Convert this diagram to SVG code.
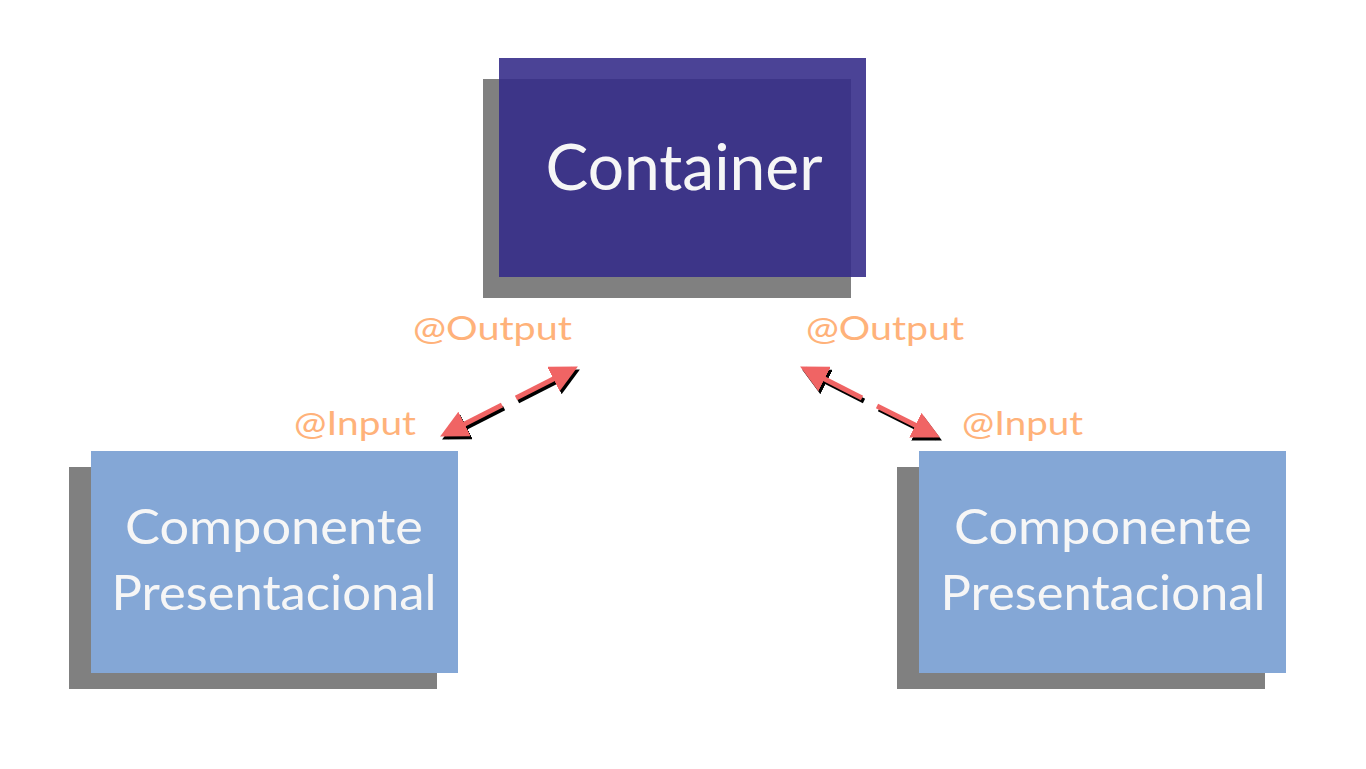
<svg xmlns="http://www.w3.org/2000/svg" width="1366" height="769" viewBox="0 0 1366 769">
<defs>
<style>
.shadow{fill:#808080}
.cont{fill:#352c89;fill-opacity:0.89}
.comp{fill:#84a7d6}
.t{font-family:Lato,"Open Sans","Liberation Sans",sans-serif;fill:#f6f6f6;text-anchor:middle}
.lbl{font-family:Lato,"Open Sans","Liberation Sans",sans-serif;fill:#ffb27a;font-size:33px}
.red{stroke:#f06464;stroke-width:5;fill:none}
.blk{stroke:#000;stroke-width:5;fill:none}
</style>
<marker id="hr" viewBox="0 0 10 10" refX="8" refY="5" markerWidth="5.5" markerHeight="5.5" orient="auto-start-reverse" markerUnits="strokeWidth"><path d="M0,0 L10,5 L0,10 z" fill="#f06464"/></marker>
<marker id="hb" viewBox="0 0 10 10" refX="8" refY="5" markerWidth="5.5" markerHeight="5.5" orient="auto-start-reverse" markerUnits="strokeWidth"><path d="M0,0 L10,5 L0,10 z" fill="#000"/></marker>
</defs>
<rect width="1366" height="769" fill="#fff"/>
<g id="container">
<rect class="shadow" x="483" y="79" width="368" height="219"/>
<rect class="cont" x="499" y="58" width="367" height="219"/>
<text class="t" x="684" y="190" font-size="64" textLength="277" lengthAdjust="spacingAndGlyphs">Container</text>
</g>
<g id="comp-left">
<rect class="shadow" x="69" y="467" width="368" height="222"/>
<rect class="comp" x="91" y="451" width="367" height="222"/>
<text class="t" x="274" y="544" font-size="48" textLength="298" lengthAdjust="spacingAndGlyphs">Componente</text>
<text class="t" x="274" y="610" font-size="48" textLength="325" lengthAdjust="spacingAndGlyphs">Presentacional</text>
</g>
<g id="comp-right">
<rect class="shadow" x="897" y="467" width="368" height="222"/>
<rect class="comp" x="919" y="451" width="367" height="222"/>
<text class="t" x="1103" y="544" font-size="48" textLength="298" lengthAdjust="spacingAndGlyphs">Componente</text>
<text class="t" x="1103" y="610" font-size="48" textLength="325" lengthAdjust="spacingAndGlyphs">Presentacional</text>
</g>
<g id="labels">
<text class="lbl" x="413" y="340" textLength="159" lengthAdjust="spacingAndGlyphs">@Output</text>
<text class="lbl" x="294" y="435" textLength="122" lengthAdjust="spacingAndGlyphs">@Input</text>
<text class="lbl" x="806" y="340" textLength="158" lengthAdjust="spacingAndGlyphs">@Output</text>
<text class="lbl" x="962" y="435" textLength="121" lengthAdjust="spacingAndGlyphs">@Input</text>
</g>
<g id="connectors">
<g transform="translate(2,3)">
<path class="blk" d="M502,405 L445,434" marker-end="url(#hb)"/>
<path class="blk" d="M516,398 L573,369" marker-end="url(#hb)"/>
<path class="blk" d="M862,398 L805,369" marker-end="url(#hb)"/>
<path class="blk" d="M877,406 L935,435" marker-end="url(#hb)"/>
</g>
<path class="red" d="M502,405 L445,434" marker-end="url(#hr)"/>
<path class="red" d="M516,398 L573,369" marker-end="url(#hr)"/>
<path class="red" d="M862,398 L805,369" marker-end="url(#hr)"/>
<path class="red" d="M877,406 L935,435" marker-end="url(#hr)"/>
</g>
</svg>
